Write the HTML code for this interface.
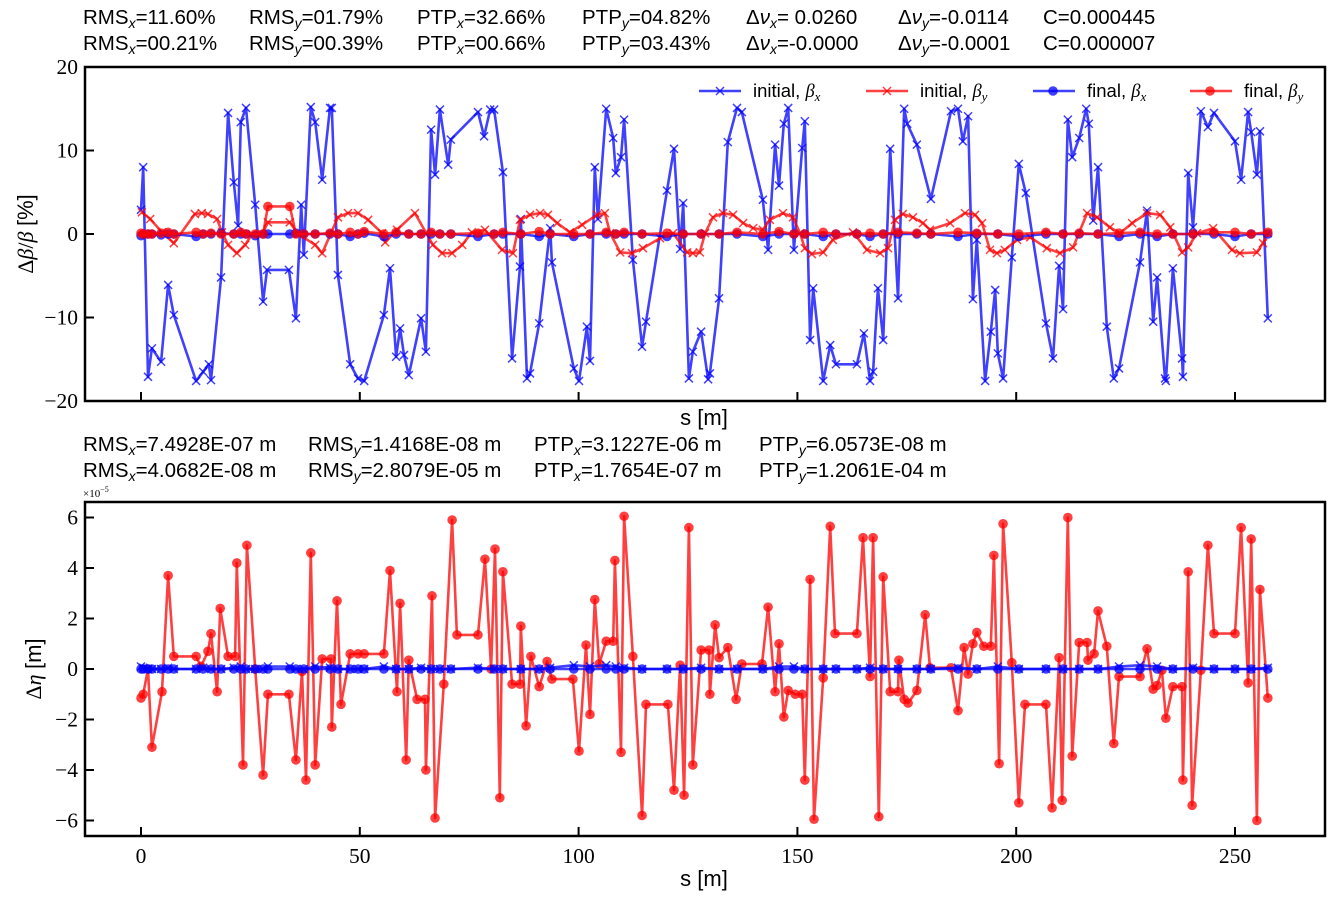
<!DOCTYPE html>
<html><head><meta charset="utf-8">
<style>
body{margin:0;background:#fff;width:1334px;height:901px;overflow:hidden;position:relative;font-family:"Liberation Sans",sans-serif;}
.hd{position:absolute;font-size:20.5px;color:#000;white-space:nowrap;line-height:1;}
.hd sub{font-size:14px;font-style:italic;vertical-align:-4px;line-height:0;}
svg{position:absolute;left:0;top:0;}
</style></head>
<body>
<div class="hd" style="left:83px;top:8px;">
<span style="position:absolute;left:0">RMS<sub>x</sub>=11.60%</span><span style="position:absolute;left:166px">RMS<sub>y</sub>=01.79%</span><span style="position:absolute;left:334px">PTP<sub>x</sub>=32.66%</span><span style="position:absolute;left:499px">PTP<sub>y</sub>=04.82%</span><span style="position:absolute;left:663px">Δ<i>ν</i><sub>x</sub>= 0.0260</span><span style="position:absolute;left:815px">Δ<i>ν</i><sub>y</sub>=-0.0114</span><span style="position:absolute;left:960px">C=0.000445</span></div>
<div class="hd" style="left:83px;top:34px;">
<span style="position:absolute;left:0">RMS<sub>x</sub>=00.21%</span><span style="position:absolute;left:166px">RMS<sub>y</sub>=00.39%</span><span style="position:absolute;left:334px">PTP<sub>x</sub>=00.66%</span><span style="position:absolute;left:499px">PTP<sub>y</sub>=03.43%</span><span style="position:absolute;left:663px">Δ<i>ν</i><sub>x</sub>=-0.0000</span><span style="position:absolute;left:815px">Δ<i>ν</i><sub>y</sub>=-0.0001</span><span style="position:absolute;left:960px">C=0.000007</span></div>
<div class="hd" style="left:83px;top:435px;">
<span style="position:absolute;left:0">RMS<sub>x</sub>=7.4928E-07 m</span><span style="position:absolute;left:225px">RMS<sub>y</sub>=1.4168E-08 m</span><span style="position:absolute;left:451px">PTP<sub>x</sub>=3.1227E-06 m</span><span style="position:absolute;left:676px">PTP<sub>y</sub>=6.0573E-08 m</span></div>
<div class="hd" style="left:83px;top:461px;">
<span style="position:absolute;left:0">RMS<sub>x</sub>=4.0682E-08 m</span><span style="position:absolute;left:225px">RMS<sub>y</sub>=2.8079E-05 m</span><span style="position:absolute;left:451px">PTP<sub>x</sub>=1.7654E-07 m</span><span style="position:absolute;left:676px">PTP<sub>y</sub>=1.2061E-04 m</span></div>
<svg id="chart" width="1334" height="901"></svg>
<script>
// ---------- data ----------
const sBx=[0.0,0.5,1.6,2.5,4.6,6.2,7.5,12.6,14.2,15.5,16.0,18.3,19.9,21.2,22.2,22.8,24.0,26.1,27.9,28.8,33.8,35.4,36.6,37.2,38.8,39.8,41.4,43.2,43.6,45.0,47.8,49.6,51.0,55.5,56.9,58.3,59.2,60.1,61.2,64.0,65.1,66.3,67.2,68.3,70.2,70.8,77.0,78.4,79.8,80.7,82.7,84.8,86.6,86.8,88.2,88.9,91.0,93.5,93.9,98.9,100.1,101.9,102.6,103.7,104.4,106.3,107.9,108.5,109.7,110.4,112.4,114.5,115.4,120.2,121.8,123.2,123.9,125.2,126.1,128.0,129.6,130.0,132.1,134.1,136.2,137.3,142.1,143.3,144.9,145.8,146.9,147.9,149.2,151.1,151.7,152.9,153.6,155.9,157.5,158.8,163.6,165.2,166.6,167.3,168.4,169.6,171.2,173.0,174.4,175.1,177.3,180.5,185.1,186.7,187.8,189.0,190.1,191.0,192.9,194.2,195.2,195.8,197.0,199.0,200.6,202.2,206.8,208.4,209.8,210.7,211.8,212.8,214.4,216.0,216.6,217.6,218.7,220.7,222.3,223.5,228.3,229.9,231.3,232.2,234.0,234.2,235.8,237.9,238.1,239.3,240.4,242.2,243.8,245.2,250.0,251.4,253.0,253.7,255.0,255.7,257.5];
const initBx=[2.9,8.0,-17.1,-13.7,-15.3,-6.1,-9.7,-17.6,-16.5,-15.6,-17.5,-5.2,14.5,6.2,1.0,13.4,15.1,3.5,-8.1,-4.3,-4.3,-10.1,3.5,-2.5,15.2,13.4,6.5,15.1,15.1,-4.9,-15.6,-17.3,-17.6,-9.7,-4.1,-14.7,-11.3,-14.5,-16.9,-10.1,-14.1,12.5,7.1,14.9,8.3,11.3,14.6,11.7,14.9,14.9,7.4,-14.9,-3.9,1.8,-17.3,-16.7,-10.7,0.7,-3.4,-16.1,-17.6,-11.1,-15.2,8.0,1.8,15.0,11.5,7.3,9.2,13.7,-3.1,-13.5,-10.5,5.2,10.2,-1.8,3.7,-17.3,-14.1,-11.7,-17.4,-16.7,-7.7,11.0,15.1,14.6,4.1,-1.9,10.7,5.8,13.2,15.1,-1.9,10.3,13.5,-12.7,-6.5,-17.6,-13.3,-15.6,-15.6,-11.9,-17.6,-16.5,-6.5,-12.7,10.2,-7.7,15.0,13.2,10.7,4.2,14.7,15.0,11.1,14.1,-7.8,-0.7,-17.6,-11.7,-6.7,-14.3,-17.3,-2.8,8.4,4.9,-10.7,-14.9,-3.8,-9.0,13.7,9.2,11.5,15.0,13.2,1.6,8.0,-11.1,-17.3,-16.1,-3.4,2.8,-10.5,-5.2,-17.3,-17.6,-4.1,-14.9,-17.1,7.3,0.8,14.7,12.8,14.5,11.1,6.5,14.6,12.2,7.1,12.3,-10.1];
const sBy=[0.2,2.1,4.8,7.5,12.3,13.9,15.3,17.4,18.5,19.9,21.9,23.8,25.4,27.7,29.0,34.0,35.9,39.8,41.4,45.0,47.3,49.6,51.9,55.1,55.8,58.5,62.6,66.7,68.8,71.1,73.4,75.6,78.6,82.5,85.0,86.6,88.9,91.2,93.0,95.1,98.0,100.8,104.2,106.0,107.2,109.5,112.2,114.7,118.6,121.6,124.8,126.1,127.7,128.9,130.7,133.0,135.3,137.6,139.9,142.1,143.7,146.7,149.0,150.6,151.7,153.3,155.9,158.1,162.7,165.9,168.9,170.7,172.3,174.1,176.4,178.7,180.3,184.9,188.3,190.6,192.2,194.0,195.6,197.4,200.2,203.2,207.0,210.0,213.0,216.2,218.5,221.4,223.7,226.5,229.9,232.9,235.2,237.9,239.3,241.3,245.0,249.3,251.1,255.0,256.4,257.5];
const initBy=[2.6,1.8,0.2,-1.1,2.4,2.5,2.4,1.8,0.2,-1.3,-2.3,-1.3,0.0,0.0,1.4,1.4,0.0,-1.3,-2.3,2.0,2.5,2.5,1.7,0.1,-1.0,0.5,2.5,-1.3,-2.3,-2.3,-1.3,0.2,0.5,-1.9,-2.3,1.7,2.3,2.5,2.3,1.3,0.2,1.1,2.3,2.5,0.1,-2.2,-2.3,-1.7,-0.5,0.1,-2.2,-2.3,-2.2,0.1,2.0,2.5,2.3,1.3,0.7,0.5,1.7,2.5,2.0,0.1,-1.7,-2.4,-2.2,-0.7,0.2,-1.9,-2.3,-1.7,1.7,2.4,2.0,1.3,0.5,1.3,2.5,2.3,1.3,-1.9,-2.3,-1.9,-0.7,-0.4,-1.7,-2.3,-1.6,2.5,2.0,0.8,0.1,1.3,2.5,2.3,0.8,-2.2,-1.6,0.1,0.7,-1.9,-2.3,-2.2,-1.1,0.1];
const sFin=[0,0.5,1.6,2.5,4.6,6.2,7.5,12.6,14.2,16.0,18.3,21.2,22.8,24.0,26.1,27.9,29.0,34.0,35.4,37.2,39.8,43.2,45.0,47.8,49.6,51.0,55.5,58.3,61.2,64.0,66.3,68.3,70.8,77.0,80.7,82.7,86.8,91.0,93.5,98.9,102.6,106.3,108.5,110.4,114.5,120.2,123.9,128.0,132.1,136.2,142.1,145.8,149.2,151.7,155.9,158.8,163.6,166.6,169.6,173.0,177.3,180.5,186.7,191.0,195.8,200.6,206.8,210.7,214.4,218.7,223.5,228.3,232.2,235.8,240.4,245.2,250.0,253.7,257.5];
const finBx=[-0.2,0,0,0,-0.1,0,0,-0.3,0,0,0.1,0,0,0,-0.2,0,0,0,0.1,0,0,0,0,-0.3,0,0.1,-0.3,0,0,0,0,0,0,-0.3,0,0,0,-0.3,0,-0.3,0,0,0,0,0,-0.3,0,0,0,0,-0.3,0,0,0,-0.3,0,0,-0.3,0,0,0,0,-0.3,0,0,-0.3,0,0,0,0,-0.3,0,-0.3,0,0,0,-0.3,0,0];
const finBy=[0.1,0,0,0,0.1,0.2,0,0.2,0,0.1,0,0,0.2,0,0,0,3.3,3.3,0,0,0,0.1,0,0.2,0,0.3,0,0.2,0,0,0.2,0,0,0.1,0,0.2,0,0.3,0,0,0,0.2,0,0.2,0,0.1,0,0,0,0.2,0,0.3,0,0,0.2,0,0,0.1,0,0.2,0.1,0,0.2,0.1,0,0,0.2,0,0.1,0,0.1,0.2,0,0,0,0.2,0.2,0,0.2];
const etaXi=[0.1,0.05,0,0,0,0.05,0,0,0.05,0,0,0.05,0.1,0,0,0,0.1,0.1,0,0,0.1,0.05,0,0,0,0,0.1,0,0,0.05,0,0,0,0.05,0,0,0,0,0.05,0.15,0.1,0.15,0.1,0.05,0,0,0,0.05,0,0,0,0.1,0.1,0,0,0,0,0.05,0,0,0,0,0.05,0,0.1,0,0,0,0,0,0.1,0.15,0.1,0,0.05,0,0,0,0.05];
const etaXf=[0,0,0,0,0,0,0,0,0,0,0,0,0,0,0,0,0,0,0,0,0,0,0,0,0,0,0,0,0,0,0,0,0,0,0,0,0,0,0,0,0,0,0,0,0,0,0,0,0,0,0,0,0,0,0,0,0,0,0,0,0,0,0,0,0,0,0,0,0,0,0,0,0,0,0,0,0,0,0];
const sEta=[0.0,0.5,1.6,2.5,4.8,6.2,7.5,12.6,13.7,15.3,16.0,17.4,18.1,19.9,21.5,21.9,23.3,24.2,26.1,27.9,29.0,33.8,35.4,36.8,37.7,38.8,39.8,41.4,43.4,43.6,44.8,45.7,47.8,49.6,51.0,55.5,56.9,58.5,59.2,60.6,61.2,63.1,64.9,65.1,66.5,67.2,69.2,71.1,72.2,77.0,78.6,80.0,80.9,82.0,82.7,84.8,86.6,86.8,88.0,89.1,91.0,92.8,93.9,98.7,100.1,101.7,102.6,103.7,104.7,106.3,107.9,108.3,109.7,110.4,112.4,114.5,115.4,120.4,121.8,123.2,124.1,125.2,126.1,128.0,129.8,130.0,131.2,132.1,134.1,136.0,137.3,141.9,143.3,144.9,145.8,146.9,147.9,149.5,151.1,151.7,152.9,153.8,155.9,157.5,158.6,163.6,165.0,166.6,167.3,168.6,169.6,171.2,173.0,173.2,174.4,175.3,177.3,179.2,180.3,185.1,186.7,188.1,189.0,190.1,191.0,192.6,194.2,194.9,196.1,197.0,199.0,200.6,202.0,206.8,208.2,209.8,210.5,211.8,212.8,214.4,216.2,216.4,217.8,218.7,220.7,222.3,223.5,228.3,229.9,231.3,232.2,233.3,234.2,235.8,237.9,238.1,239.3,240.2,242.2,243.8,245.2,250.0,251.4,253.0,253.7,255.0,255.7,257.5];
const etaY=[-1.15,-1.0,0,-3.1,-0.9,3.7,0.5,0.5,0.1,0.7,1.4,-0.9,2.4,0.5,0.5,4.2,-3.8,4.9,0,-4.2,-1.0,-1.0,-3.6,-0.1,-4.4,4.6,-3.8,0.4,0.4,-2.3,2.7,-1.4,0.6,0.6,0.6,0.6,3.9,-0.9,2.6,-3.6,0.35,-1.2,-1.2,-4.0,2.9,-5.9,-0.6,5.9,1.35,1.35,4.35,0,4.75,-5.1,3.85,-0.6,-0.6,1.7,-2.25,0.5,-0.7,0.3,-0.4,-0.4,-3.25,0.95,-1.8,2.75,0.2,1.1,1.1,4.3,-3.3,6.05,0.5,-5.8,-1.4,-1.4,-4.8,0.15,-5.0,5.6,-3.8,0.75,0.75,-1.0,1.75,0.45,0.85,-1.2,0.2,0.2,2.45,-0.9,1.0,-1.9,-0.85,-1.0,-1.0,-4.4,3.55,-5.95,-0.35,5.65,1.4,1.4,5.2,-0.3,5.2,-5.85,3.65,-0.9,-0.9,0.35,-1.2,-1.35,-0.85,2.15,0.05,0.05,-1.65,0.85,-0.2,1.0,1.45,0.9,0.9,4.5,-3.75,5.75,0.25,-5.3,-1.4,-1.4,-5.5,0.45,-5.2,6.0,-3.45,1.05,1.05,0.35,0.6,2.3,0.9,-2.95,-0.3,-0.3,0.8,-0.8,-0.65,-0.05,-1.95,-0.7,-0.7,-4.4,3.85,-5.4,-0.05,4.9,1.4,1.4,5.6,-0.55,5.15,-6.0,3.15,-1.15];
const xTicks=[0,50,100,150,200,250];
const yTicksTop=[20,10,0,-10,-20];
const yTicksBot=[6,4,2,0,-2,-4,-6];

// ---------- scales ----------
const X0=85,X1=1325;
const xs=s=>141+s*4.376;
const yTop=v=>234-v*8.35;
const yBot=v=>669-v*25.25;
const NS='http://www.w3.org/2000/svg';
const svg=document.getElementById('chart');
function el(tag,attrs,parent){const e=document.createElementNS(NS,tag);for(const k in attrs)e.setAttribute(k,attrs[k]);(parent||svg).appendChild(e);return e;}
const BLUE='rgba(0,0,255,0.75)',RED='rgba(255,0,0,0.75)';

function series(sArr,vArr,ys,color,marker,name){
  const g=el('g',{});
  
  
  const pts=sArr.map((s,i)=>xs(s).toFixed(1)+','+ys(vArr[i]).toFixed(1)).join(' ');
  const pl=el('polyline',{points:pts,fill:'none',stroke:color,'stroke-width':2.6,'stroke-linejoin':'round'},g);
  
  
  sArr.forEach((s,i)=>{
    const x=xs(s),y=ys(vArr[i]);
    if(marker==='x'){
      const m=el('path',{d:`M${x-4},${y-4}L${x+4},${y+4}M${x-4},${y+4}L${x+4},${y-4}`,stroke:color,'stroke-width':1.5},g);
      
      
    }else{
      const m=el('circle',{cx:x,cy:y,r:4.8,fill:color},g);
      
      
    }
  });
}

function axes(top,bot,yTicks,ys,fmt,prefix){
  xTicks.forEach(t=>{
    const x=xs(t);
    const tk=el('line',{x1:x,x2:x,y1:bot,y2:bot-9,stroke:'#000','stroke-width':2});
    
    
  });
  yTicks.forEach(t=>{
    const y=ys(t);
    const tk=el('line',{x1:X0,x2:X0+9,y1:y,y2:y,stroke:'#000','stroke-width':2});
    
    
    const tl=el('text',{x:X0-7,y:y+7,'text-anchor':'end','font-size':21.5,'font-family':'Liberation Serif, serif'});
    tl.textContent=fmt(t);
    
    
  });
}
const minus=t=>t<0?'\u2212'+Math.abs(t):String(t);

// top plot
series(sBx,initBx,yTop,BLUE,'x','initial-beta-x');
series(sBy,initBy,yTop,RED,'x','initial-beta-y');
series(sFin,finBx,yTop,BLUE,'o','final-beta-x');
series(sFin,finBy,yTop,RED,'o','final-beta-y');
axes(67,401,yTicksTop,yTop,minus,'top');
const f1=el('rect',{x:X0,y:67,width:X1-X0,height:334,fill:'none',stroke:'#000','stroke-width':2.5});



// bottom plot
series(sEta,etaY,yBot,RED,'o','eta-y');
series(sFin,etaXi,yBot,BLUE,'x','initial-eta-x');
series(sFin,etaXf,yBot,BLUE,'o','final-eta-x');
axes(502,836,yTicksBot,yBot,minus,'bottom');
xTicks.forEach(t=>{
  const tl=el('text',{x:xs(t),y:863,'text-anchor':'middle','font-size':21.5,'font-family':'Liberation Serif, serif'});
  tl.textContent=String(t);
  
  
});
const f2=el('rect',{x:X0,y:502,width:X1-X0,height:334,fill:'none',stroke:'#000','stroke-width':2.5});


</script>

<svg width="1334" height="901" style="pointer-events:none">
<text x="704" y="425" text-anchor="middle" font-size="22" font-family="Liberation Sans, sans-serif">s [m]</text>
<text x="704" y="886" text-anchor="middle" font-size="22" font-family="Liberation Sans, sans-serif">s [m]</text>
<text transform="translate(33,234) rotate(-90)" text-anchor="middle" font-size="22" font-family="Liberation Serif, serif">Δ<tspan font-style="italic">β</tspan>/<tspan font-style="italic">β</tspan> <tspan font-family="Liberation Sans, sans-serif">[%]</tspan></text>
<text transform="translate(41,669) rotate(-90)" text-anchor="middle" font-size="22" font-family="Liberation Serif, serif">Δ<tspan font-style="italic">η</tspan> <tspan font-family="Liberation Sans, sans-serif">[m]</tspan></text>
<text x="83" y="497" font-size="11" font-family="Liberation Serif, serif">×10<tspan dy="-5" font-size="8">−5</tspan></text>
<g font-family="Liberation Sans, sans-serif" font-size="18.5">
 <g>
  <line x1="699" y1="91" x2="741" y2="91" stroke="rgba(0,0,255,0.75)" stroke-width="2.6"/>
  <path d="M716,87L724,95M716,95L724,87" stroke="rgba(0,0,255,0.75)" stroke-width="1.5"/>
  <text x="753" y="97">initial, <tspan font-family="Liberation Serif, serif" font-style="italic">β</tspan><tspan font-family="Liberation Serif, serif" font-style="italic" font-size="13" dy="4">x</tspan></text>
 </g>
 <g>
  <line x1="866" y1="91" x2="908" y2="91" stroke="rgba(255,0,0,0.75)" stroke-width="2.6"/>
  <path d="M883,87L891,95M883,95L891,87" stroke="rgba(255,0,0,0.75)" stroke-width="1.5"/>
  <text x="920" y="97">initial, <tspan font-family="Liberation Serif, serif" font-style="italic">β</tspan><tspan font-family="Liberation Serif, serif" font-style="italic" font-size="13" dy="4">y</tspan></text>
 </g>
 <g>
  <line x1="1033" y1="91" x2="1075" y2="91" stroke="rgba(0,0,255,0.75)" stroke-width="2.6"/>
  <circle cx="1053" cy="91" r="4.8" fill="rgba(0,0,255,0.75)"/>
  <text x="1087" y="97">final, <tspan font-family="Liberation Serif, serif" font-style="italic">β</tspan><tspan font-family="Liberation Serif, serif" font-style="italic" font-size="13" dy="4">x</tspan></text>
 </g>
 <g>
  <line x1="1190" y1="91" x2="1232" y2="91" stroke="rgba(255,0,0,0.75)" stroke-width="2.6"/>
  <circle cx="1210" cy="91" r="4.8" fill="rgba(255,0,0,0.75)"/>
  <text x="1244" y="97">final, <tspan font-family="Liberation Serif, serif" font-style="italic">β</tspan><tspan font-family="Liberation Serif, serif" font-style="italic" font-size="13" dy="4">y</tspan></text>
 </g>
</g>
</svg>
</body></html>
